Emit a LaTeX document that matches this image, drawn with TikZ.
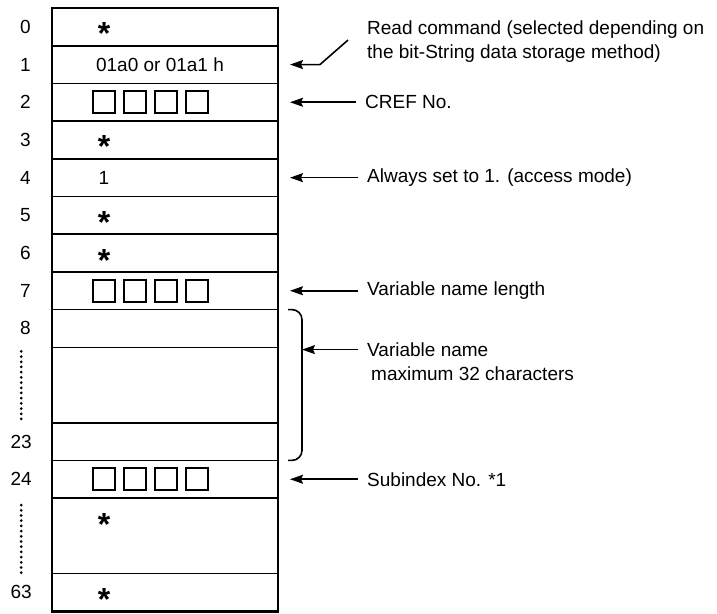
\documentclass[tikz,border=0pt]{standalone}
\usepackage{fontspec}
\setmainfont{Liberation Sans}
\usetikzlibrary{arrows.meta,positioning}
\definecolor{Ink}{HTML}{000000}
\tikzset{
  row/.style={
    draw=Ink, line width=1.6pt, minimum width=226pt, minimum height=37.7pt,
    inner sep=0pt, outer sep=0pt
  },
  tallrow/.style={row, minimum height=75.4pt},
  frame/.style={draw=Ink, line width=2.8pt},
  cell/.style={draw=Ink, line width=1.7pt, minimum size=22pt, inner sep=0pt},
  num/.style={inner sep=0pt, font=\fontsize{19}{23}\selectfont},
  entry/.style={inner sep=0pt, font=\fontsize{19}{23}\selectfont},
  starsym/.style={inner sep=0pt, yshift=-7pt, font=\bfseries\fontsize{32}{32}\selectfont},
  note/.style={inner sep=0pt, anchor=west, align=left, font=\fontsize{19}{24}\selectfont},
  flow/.style={-{Stealth[length=13pt,width=9pt,inset=2pt]}, line width=1.6pt, draw=Ink,
    shorten <=9pt, shorten >=12pt},
  dotline/.style={draw=Ink, line width=3pt, line cap=round, dash pattern=on 0pt off 5.2pt},
  bracket/.style={draw=Ink, line width=1.6pt, rounded corners=10pt}
}
\begin{document}
\begin{tikzpicture}[x=1pt,y=-1pt]
    \useasboundingbox (0,0) rectangle (717,613);
    % memory rows
    \node[row] (r0) at (165,26.85) {};
    \node[row,below=0pt of r0] (r1) {};
    \node[row,below=0pt of r1] (r2) {};
    \node[row,below=0pt of r2] (r3) {};
    \node[row,below=0pt of r3] (r4) {};
    \node[row,below=0pt of r4] (r5) {};
    \node[row,below=0pt of r5] (r6) {};
    \node[row,below=0pt of r6] (r7) {};
    \node[row,below=0pt of r7] (r8) {};
    \node[tallrow,below=0pt of r8] (r9) {};
    \node[row,below=0pt of r9] (r23) {};
    \node[row,below=0pt of r23] (r24) {};
    \node[tallrow,below=0pt of r24] (r25) {};
    \node[row,below=0pt of r25] (r63) {};
    \draw[frame] (r0.north west) rectangle (r63.south east);
    % row numbers
    \node[num,left=21pt of r0] (l0) {0};
    \node[num,left=21pt of r1] (l1) {1};
    \node[num,left=21pt of r2] (l2) {2};
    \node[num,left=21pt of r3] (l3) {3};
    \node[num,left=21pt of r4] (l4) {4};
    \node[num,left=21pt of r5] (l5) {5};
    \node[num,left=21pt of r6] (l6) {6};
    \node[num,left=21pt of r7] (l7) {7};
    \node[num,left=21pt of r8] (l8) {8};
    \node[num,left=20pt of r23] (l23) {23};
    \node[num,left=20pt of r24] (l24) {24};
    \node[num,left=20pt of r63] (l63) {63};
    \draw[dotline,shorten <=16pt,shorten >=11pt] (l8.south -| l23.north) -- (l23.north);
    \draw[dotline,shorten <=19pt,shorten >=8pt] (l24.south) -- (l63.north);
    % contents
    \node[starsym] (s0) at ([xshift=52pt]r0.west) {*};
    \node[entry] (t1) at ([xshift=-5pt]r1.center) {01a0 or 01a1 h};
    \node[starsym] (s3) at ([xshift=52pt]r3.west) {*};
    \node[entry] (t4) at ([xshift=52pt]r4.west) {1};
    \node[starsym] (s5) at ([xshift=52pt]r5.west) {*};
    \node[starsym] (s6) at ([xshift=52pt]r6.west) {*};
    \node[starsym] (s25) at ([xshift=52pt,yshift=-19pt]r25.north west) {*};
    \node[starsym] (s63) at ([xshift=52pt]r63.west) {*};
    \foreach \r in {2,7,24}
      \foreach \i in {0,...,3}
        \node[cell] (q\r-\i) at ([xshift=52pt+\i*31pt]r\r.west) {};
    % notes
    \node[note] (readcmd) at ([xshift=89pt,yshift=22.5pt]r1.east)
      {Read command (selected depending on\\the bit-String data storage method)};
    \node[note] (cref) at ([xshift=87pt]r2.east) {CREF No.};
    \node[note] (always) at ([xshift=89pt]r4.east) {Always set to 1. (access mode)};
    \node[note] (vlen) at ([xshift=89pt]r7.east) {Variable name length};
    \node[note] (vname) at ([xshift=89pt,yshift=-33.5pt]r8.east)
      {Variable name\\\hspace*{4pt}maximum 32 characters};
    \node[note] (subidx) at ([xshift=89pt]r24.east) {Subindex No. *1};
    \coordinate (brtop) at ([xshift=10pt]r8.north east);
    \coordinate (brbot) at ([xshift=10pt]r23.south east);
    \coordinate (brmid) at ([xshift=14pt,yshift=-40pt]brtop);
    \draw[bracket] (brtop) -- ++(14,0) |- (brbot);
    \draw[flow,shorten <=0pt] ([xshift=-19pt,yshift=2pt]readcmd.west)
      -- ([xshift=42pt]r1.east) -- (r1.east);
    \draw[flow] (cref.west) -- (r2.east);
    \draw[flow] (always.west) -- (r4.east);
    \draw[flow] (vlen.west) -- (r7.east);
    \draw[flow,shorten >=0pt] (vname.west |- brmid) -- (brmid);
    \draw[flow] (subidx.west) -- (r24.east);
  \end{tikzpicture}
\end{document}
